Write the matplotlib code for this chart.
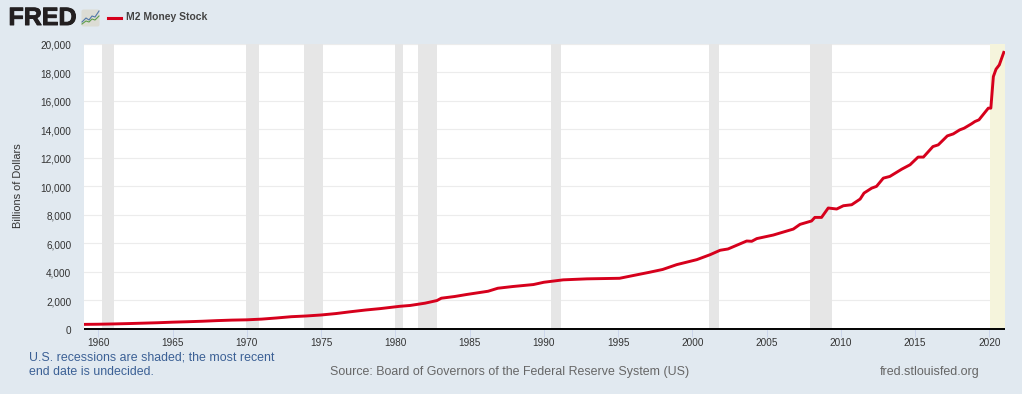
import matplotlib
matplotlib.use("Agg")
import matplotlib.pyplot as plt
import matplotlib.patheffects as pe
from matplotlib.patches import FancyBboxPatch
from matplotlib.transforms import ScaledTranslation

plt.rcParams['font.family'] = ['Liberation Sans', 'DejaVu Sans']

years = [1959.05, 1960, 1961, 1962, 1963, 1964, 1965, 1966, 1967, 1968, 1969, 1970, 1971, 1972, 1973, 1974,
         1975, 1976, 1977, 1978, 1979, 1980.3, 1981, 1982, 1982.8, 1983.1, 1984, 1984.8, 1986.25, 1986.9, 1987.9,
         1989.3, 1990, 1991.3, 1992.9, 1995.1, 1996, 1997.1, 1998, 1998.95, 2000.3, 2001.2, 2001.87, 2002.4,
         2003.66, 2004, 2004.34, 2005.45, 2006.8, 2007.25, 2008.03, 2008.25, 2008.7, 2009.15, 2009.72, 2010.17,
         2010.73, 2011.3, 2011.56, 2012.08, 2012.4, 2012.86, 2013.3, 2014.1, 2014.66, 2015.2, 2015.56, 2016.2,
         2016.56, 2017.17, 2017.57, 2018, 2018.3, 2018.8, 2019.03, 2019.3, 2019.93, 2020.1, 2020.27, 2020.45,
         2020.67, 2020.97]
m2 = [290, 300, 320, 345, 375, 405, 445, 475, 510, 555, 590, 610, 660, 740, 830, 880,
      950, 1050, 1180, 1300, 1400, 1560, 1620, 1780, 1965, 2130, 2250, 2390, 2620, 2830, 2950,
      3090, 3250, 3420, 3490, 3530, 3720, 3950, 4150, 4490, 4840, 5190, 5500, 5590,
      6150, 6130, 6320, 6570, 6990, 7320, 7560, 7810, 7810, 8470, 8400, 8630,
      8700, 9100, 9520, 9870, 9990, 10570, 10690, 11200, 11510, 12050, 12050, 12790,
      12910, 13540, 13680, 13960, 14080, 14390, 14550, 14670, 15490, 15490, 17710, 18230,
      18530, 19410]

rec_start = [1960.25, 1969.93, 1973.85, 1979.98, 1981.53, 1990.48, 2001.15, 2007.93]
rec_end = [1961.06, 1970.84, 1975.13, 1980.52, 1982.8, 1991.15, 2001.82, 2009.39]
cur_rec_start = 2020.05
cur_rec_end = 2021.02

ytick_vals = list(range(0, 20001, 2000))
xtick_vals = list(range(1960, 2021, 5))

BG = '#e1e9f0'
fig = plt.figure(figsize=(10.22, 3.94), dpi=100, facecolor=BG)
W, H = 1022, 394
ax = fig.add_axes([84 / W, 1 - 328.5 / H, (1004.5 - 84) / W, (328.5 - 44) / H])
ax.set_facecolor('white')
ax.set_xlim(1959.037, 2021.02)
ax.set_ylim(0, 20000)

for s, e in zip(rec_start, rec_end):
    ax.axvspan(s, e, color='#e6e6e6', lw=0, zorder=1)
ax.axvspan(cur_rec_start, cur_rec_end, color='#f5f4dc', lw=0, zorder=1)

ax.set_yticks(ytick_vals)
ax.set_yticklabels([f'{v:,}' for v in ytick_vals], fontsize=7.2, color='#333333')
ax.set_xticks(xtick_vals)
ax.set_xticklabels([str(v) for v in xtick_vals], fontsize=7.2, color='#333333')
ax.grid(axis='y', color='#ececec', lw=0.8, zorder=2)
ax.set_axisbelow(True)
ax.tick_params(axis='y', length=0, pad=9)
ax.tick_params(axis='x', length=5.8, width=0.7, color='#ccd6eb', pad=1, direction='out')
shift = ScaledTranslation(0, -1 / 100, fig.dpi_scale_trans)
for lab in ax.get_yticklabels():
    lab.set_transform(lab.get_transform() + shift)
for k in ('top', 'left', 'right'):
    ax.spines[k].set_visible(False)
ax.spines['bottom'].set_color('black')
ax.spines['bottom'].set_linewidth(1.4)
ax.spines['bottom'].set_capstyle('butt')

ax.plot(years, m2, color='#d6001c', lw=2.1, solid_joinstyle='round', clip_on=True, zorder=4)

fig.text(18 / W, 1 - 186 / H, 'Billions of Dollars', rotation=90, ha='center', va='center',
         fontsize=7.9, color='#333333')

# Header
fig.text(8.5 / W, 1 - 18 / H, 'FRED', fontsize=18, fontweight='bold', color='#231f20', va='center', ha='left',
         path_effects=[pe.withStroke(linewidth=0.7, foreground='#231f20')])
logo = fig.add_axes([81 / W, 1 - 27 / H, 19 / W, 18 / H])
logo.set_xlim(0, 19); logo.set_ylim(0, 18); logo.axis('off')
logo.add_patch(FancyBboxPatch((0.5, 0.5), 18, 17, boxstyle='round,pad=0,rounding_size=2',
                              fc='#dcdcd4', ec='none'))
logo.plot([1, 5, 8, 11, 14, 18], [5, 9, 7, 11, 10, 16], color='#4f76a8', lw=0.8)
logo.plot([1, 5, 8, 11, 14, 18], [3, 6, 5, 8, 7, 11], color='#5f9e4c', lw=0.8)
fig.add_artist(plt.Line2D([108 / W, 121 / W], [1 - 17.5 / H] * 2, color='#d6001c', lw=2.2))
fig.text(126 / W, 1 - 17.5 / H, 'M2 Money Stock', fontsize=7.5, fontweight='bold', color='#444444',
         va='center', ha='left')

# Footer
fig.text(29 / W, 1 - 357 / H, 'U.S. recessions are shaded; the most recent', fontsize=8.9, color='#3b6095',
         va='center', ha='left')
fig.text(29 / W, 1 - 372 / H, 'end date is undecided.', fontsize=8.9, color='#3b6095', va='center', ha='left')
fig.text(509.5 / W, 1 - 372 / H, 'Source: Board of Governors of the Federal Reserve System (US)', fontsize=8.9,
         color='#666666', va='center', ha='center')
fig.text(880 / W, 1 - 372 / H, 'fred.stlouisfed.org', fontsize=9.0, color='#666666', va='center', ha='left')

fig.savefig('out.png', dpi=100, facecolor=BG)
